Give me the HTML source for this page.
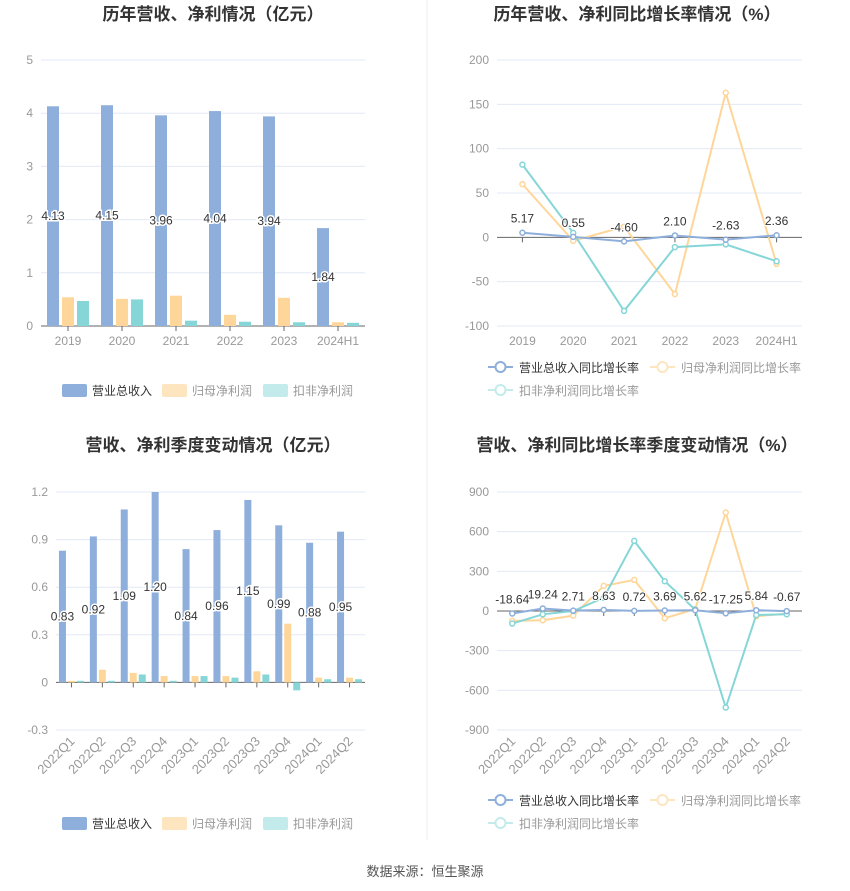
<!DOCTYPE html>
<html><head><meta charset="utf-8">
<style>
body{margin:0;background:#fff;width:850px;height:891px;overflow:hidden;font-family:"Liberation Sans","Noto Sans CJK SC",sans-serif;}
svg{display:block}
</style></head>
<body>
<svg id="svg" width="850" height="891" xmlns="http://www.w3.org/2000/svg" font-family="Liberation Sans, Noto Sans CJK SC, sans-serif">
<line x1="427" y1="0" x2="427" y2="840" stroke="#eeeeee"/>
<text x="213" y="20" text-anchor="middle" font-size="17" font-weight="bold" fill="#333">历年营收、净利情况（亿元）</text>
<text x="637" y="20" text-anchor="middle" font-size="17" font-weight="bold" fill="#333">历年营收、净利同比增长率情况（%）</text>
<text x="213" y="451" text-anchor="middle" font-size="17" font-weight="bold" fill="#333">营收、净利季度变动情况（亿元）</text>
<text x="637" y="451" text-anchor="middle" font-size="17" font-weight="bold" fill="#333">营收、净利同比增长率季度变动情况（%）</text>
<text x="425" y="876" text-anchor="middle" font-size="13" fill="#555">数据来源：恒生聚源</text>
<g id="root"></g>
</svg>
<script>
const yearCats=["2019","2020","2021","2022","2023","2024H1"];
const yRev=[4.13,4.15,3.96,4.04,3.94,1.84];
const yNet=[0.54,0.51,0.57,0.21,0.53,0.07];
const yDed=[0.47,0.50,0.10,0.08,0.07,0.06];
const yRevG=[5.17,0.55,-4.60,2.10,-2.63,2.36];
const yNetG=[60,-4,12,-64,163,-30];
const yDedG=[82,5,-83,-11,-8,-27];
const qCats=["2022Q1","2022Q2","2022Q3","2022Q4","2023Q1","2023Q2","2023Q3","2023Q4","2024Q1","2024Q2"];
const qRev=[0.83,0.92,1.09,1.20,0.84,0.96,1.15,0.99,0.88,0.95];
const qNet=[0.01,0.08,0.06,0.04,0.04,0.04,0.07,0.37,0.03,0.03];
const qDed=[0.01,0.01,0.05,0.01,0.04,0.03,0.05,-0.05,0.02,0.02];
const qRevG=[-18.64,19.24,2.71,8.63,0.72,3.69,5.62,-17.25,5.84,-0.67];
const qNetG=[-75,-70,-35,190,235,-55,15,745,-40,-20];
const qDedG=[-95,-25,0,100,530,225,10,-730,-30,-25];
const ticks1=[0,1,2,3,4,5];
const ticks2=[-100,-50,0,50,100,150,200];
const ticks3=[-0.3,0,0.3,0.6,0.9,1.2];
const ticks4=[-900,-600,-300,0,300,600,900];

const NS="http://www.w3.org/2000/svg";
const root=document.getElementById('root');
const C={b:"#8eaedb",y:"#ffd699",t:"#86d6d8"};
function el(tag,attrs,parent,text){const e=document.createElementNS(NS,tag);for(const k in attrs)e.setAttribute(k,attrs[k]);if(text!==undefined)e.textContent=text;(parent||root).appendChild(e);return e;}
function axes(o){
  const yS=v=>o.y0+(v-o.vmin)/(o.vmax-o.vmin)*(o.y1-o.y0);
  const xS=i=>o.x0+(i+0.5)*(o.x1-o.x0)/o.cats.length;
  const g=el('g',{});
  
  
  o.ticks.forEach(t=>{const y=yS(t);
    const l=el('line',{x1:o.x0,x2:o.x1,y1:y,y2:y,stroke:t===0?"#666":"#e3e8f4"},g);
    
    const tx=el('text',{x:o.x0-8,y:y+4,'text-anchor':'end','font-size':12,fill:'#999'},g,String(t));
    });
  o.cats.forEach((c,i)=>{const x=xS(i),y=yS(0);
    el('line',{x1:x,x2:x,y1:y,y2:y+5,stroke:'#666'},g);
    let tx;
    if(o.rot){tx=el('text',{x:x+4,y:o.labY,'text-anchor':'end','font-size':13,fill:'#999',transform:`rotate(-45 ${x+4} ${o.labY})`},g,c);}
    else tx=el('text',{x:x,y:o.labY,'text-anchor':'middle','font-size':12,fill:'#999'},g,c);
    });
  return {xS,yS};
}
function bars(o,series,bw,gap){
  const a=axes(o);
  series.forEach((s,k)=>{s.v.forEach((v,i)=>{
    const x=a.xS(i)-(3*bw+2*gap)/2+k*(bw+gap);
    const y1=a.yS(v),y0=a.yS(0);
    const r=el('rect',{x:x,y:Math.min(y0,y1),width:bw,height:Math.max(1,Math.abs(y1-y0)),fill:s.c});
    
    
    if(k===0){const t=el('text',{x:a.xS(i)-(3*bw+2*gap)/2+bw/2,y:a.yS(v/2)+4,'text-anchor':'middle','font-size':12,fill:'#333',stroke:'#fff','stroke-width':3,'paint-order':'stroke'},root,v.toFixed(2));
      }
  });});
}
function lines(o,series){
  const a=axes(o);
  [series[1],series[2],series[0]].forEach(s=>{
    const pts=s.v.map((v,i)=>a.xS(i)+','+a.yS(v)).join(' ');
    const p=el('polyline',{points:pts,fill:'none',stroke:s.c,'stroke-width':2});
    
    s.v.forEach((v,i)=>{const c=el('circle',{cx:a.xS(i),cy:a.yS(v),r:2.5,fill:'#fff',stroke:s.c,'stroke-width':1.5});
      });
  });
  series[0].v.forEach((v,i)=>{const t=el('text',{x:a.xS(i),y:a.yS(v)-10,'text-anchor':'middle','font-size':12,fill:'#333',stroke:'#fff','stroke-width':2,'paint-order':'stroke'},root,v.toFixed(2));
    });
}
function barLegend(y){
  const items=[["营业总收入",C.b,"#333",62],["归母净利润","#fde5c0","#999",162],["扣非净利润","#c3ebec","#999",263]];
  items.forEach(it=>{const r=el('rect',{x:it[3],y:y-6,width:25,height:13,rx:2,fill:it[1]});
    
    const t=el('text',{x:it[3]+30,y:y+5,'font-size':12,fill:it[2]},root,it[0]);
    });
}
function lineLegend(y){
  const items=[["营业总收入同比增长率",C.b,"#333",488,y],["归母净利润同比增长率","#fde5c0","#999",650,y],["扣非净利润同比增长率","#c3ebec","#999",488,y+23]];
  items.forEach(it=>{el('line',{x1:it[3],x2:it[3]+25,y1:it[4],y2:it[4],stroke:it[1],'stroke-width':2});
    const c=el('circle',{cx:it[3]+12.5,cy:it[4],r:5,fill:'#fff',stroke:it[1],'stroke-width':2});
    
    const t=el('text',{x:it[3]+31,y:it[4]+5,'font-size':12,fill:it[2]},root,it[0]);
    });
}
bars({name:'annual',cats:yearCats,x0:41,x1:365,y0:326,y1:60,vmin:0,vmax:5,ticks:ticks1,labY:345},
 [{n:'revenue',v:yRev,c:C.b},{n:'net',v:yNet,c:C.y},{n:'deducted',v:yDed,c:C.t}],12,3);
lines({name:'annual-growth',cats:yearCats,x0:497,x1:802,y0:326,y1:60,vmin:-100,vmax:200,ticks:ticks2,labY:345},
 [{n:'revenue-growth',v:yRevG,c:C.b},{n:'net-growth',v:yNetG,c:C.y},{n:'deducted-growth',v:yDedG,c:C.t}]);
bars({name:'quarterly',cats:qCats,x0:56,x1:365,y0:730,y1:492,vmin:-0.3,vmax:1.2,ticks:ticks3,labY:742,rot:true},
 [{n:'revenue',v:qRev,c:C.b},{n:'net',v:qNet,c:C.y},{n:'deducted',v:qDed,c:C.t}],7,2);
lines({name:'quarterly-growth',cats:qCats,x0:497,x1:802,y0:730,y1:492,vmin:-900,vmax:900,ticks:ticks4,labY:742,rot:true},
 [{n:'revenue-growth',v:qRevG,c:C.b},{n:'net-growth',v:qNetG,c:C.y},{n:'deducted-growth',v:qDedG,c:C.t}]);
barLegend(390);lineLegend(367);barLegend(823);lineLegend(800);
</script>
</body></html>
